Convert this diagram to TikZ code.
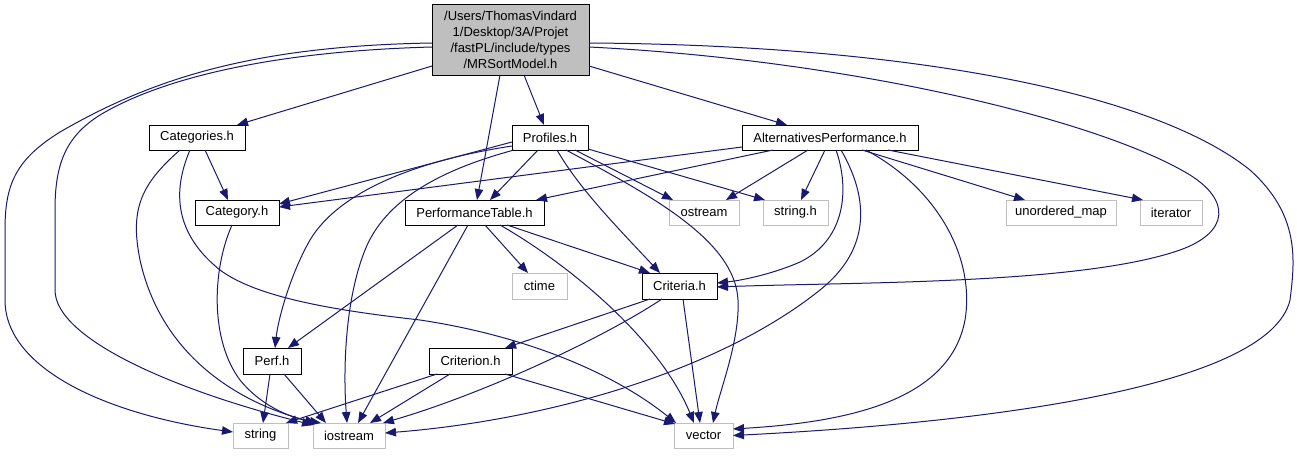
\documentclass[tikz,border=0pt]{standalone}
\usepackage{fontspec}
\setmainfont{Liberation Sans}
\usetikzlibrary{arrows.meta}
\definecolor{edgeblue}{HTML}{191970}
\definecolor{lgray}{HTML}{BFBFBF}
\begin{document}
\begin{tikzpicture}[x=1pt,y=-1pt,
  box/.style={draw=black, fill=white, line width=0.9pt, minimum height=25pt, inner sep=0pt, font=\fontsize{13}{15}\selectfont},
  sys/.style={box, draw=lgray},
  dep/.style={draw=edgeblue, line width=1pt, -{Triangle[length=11pt,width=8.5pt]}}]
\fill[white] (0,0) rectangle (1297,455);
\useasboundingbox (0,0) rectangle (1297,455);
% nodes
\node[box, fill=lgray, minimum width=157pt, minimum height=71pt, align=center, font=\fontsize{13}{16}\selectfont] (root) at (510.5,39.5) {/Users/ThomasVindard\\1/Desktop/3A/Projet\\/fastPL/include/types\\/MRSortModel.h};
\node[box, minimum width=96pt] (cats) at (197,137.5) {Categories.h};
\node[box, minimum width=76pt] (prof) at (550,137.5) {Profiles.h};
\node[box, minimum width=176pt] (alt) at (830,137.5) {AlternativesPerformance.h};
\node[box, minimum width=84pt] (cat) at (237,212.5) {Category.h};
\node[box, minimum width=139pt] (pt) at (474.5,212.5) {PerformanceTable.h};
\node[sys, minimum width=70pt] (ostr) at (704,212.5) {ostream};
\node[sys, minimum width=65pt] (strh) at (795.5,212.5) {string.h};
\node[sys, minimum width=110pt] (umap) at (1061,212.5) {unordered\_map};
\node[sys, minimum width=62pt] (iter) at (1171,212.5) {iterator};
\node[sys, minimum width=55pt, minimum height=26pt] (ctime) at (539.5,286) {ctime};
\node[box, minimum width=75pt, minimum height=26pt] (crit) at (679.5,286) {Criteria.h};
\node[box, minimum width=58pt, minimum height=26pt] (perf) at (272,361) {Perf.h};
\node[box, minimum width=83pt, minimum height=26pt] (crion) at (470.5,361) {Criterion.h};
\node[sys, minimum width=55pt] (str) at (260.5,435.5) {string};
\node[sys, minimum width=72pt] (ios) at (349,435.5) {iostream};
\node[sys, minimum width=59pt] (vec) at (703.5,435.5) {vector};
% root edges
\draw[dep] ([shift={(-78.5,26.5)}]root.center) -- ([shift={(40,-12.5)}]cats.center);
\draw[dep] ([shift={(-78.5,3.5)}]root.center) .. controls (250,46) and (150,80) .. (60,132) .. controls (15,160) and (5,185) .. (5,230) -- (5,300) .. controls (5,370) and (110,415) .. ([shift={(-27.5,-3.5)}]str.center);
\draw[dep] ([shift={(-78.5,7.5)}]root.center) .. controls (250,52) and (150,85) .. (100,115) .. controls (65,137) and (55,165) .. (55,210) -- (55,290) .. controls (55,340) and (180,392) .. ([shift={(-36,-10.5)}]ios.center);
\draw[dep] ([shift={(13.5,35.5)}]root.center) -- ([shift={(-6,-12.5)}]prof.center);
\draw[dep] ([shift={(-10.5,35.5)}]root.center) -- ([shift={(2.5,-12.5)}]pt.center);
\draw[dep] ([shift={(78.5,26.5)}]root.center) -- ([shift={(-43,-12.5)}]alt.center);
\draw[dep] ([shift={(78.5,7.5)}]root.center) .. controls (850,60) and (1100,120) .. (1190,175) .. controls (1230,200) and (1230,232) .. (1180,250) .. controls (1080,285) and (850,282) .. ([shift={(37.5,1)}]crit.center);
\draw[dep] ([shift={(78.5,3.5)}]root.center) .. controls (900,45) and (1150,90) .. (1250,170) .. controls (1300,215) and (1295,260) .. (1290,300) .. controls (1270,385) and (1000,422) .. ([shift={(29.5,0)}]vec.center);
% Categories
\draw[dep] ([shift={(8,12.5)}]cats.center) -- ([shift={(-9,-12.5)}]cat.center);
\draw[dep] ([shift={(-17,12.5)}]cats.center) .. controls (140,185) and (130,210) .. (140,260) .. controls (160,350) and (230,400) .. ([shift={(-33,-12.5)}]ios.center);
\draw[dep] ([shift={(-7,12.5)}]cats.center) .. controls (175,185) and (170,230) .. (220,270) .. controls (260,300) and (350,312) .. (420,320) .. controls (520,335) and (610,370) .. ([shift={(-27.5,-12.5)}]vec.center);
% Category
\draw[dep] ([shift={(-5,12.5)}]cat.center) .. controls (212,270) and (210,340) .. (240,380) .. controls (260,405) and (290,418) .. ([shift={(-28,-12.5)}]ios.center);
% Profiles
\draw[dep] ([shift={(-38,4.5)}]prof.center) -- ([shift={(42,-8.5)}]cat.center);
\draw[dep] ([shift={(-38,8.5)}]prof.center) .. controls (420,160) and (340,190) .. (310,240) .. controls (290,275) and (278,320) .. ([shift={(3,-13)}]perf.center);
\draw[dep] ([shift={(-36,12.5)}]prof.center) .. controls (440,170) and (385,200) .. (365,250) .. controls (345,300) and (343,370) .. ([shift={(-2,-12.5)}]ios.center);
\draw[dep] ([shift={(-12,12.5)}]prof.center) -- ([shift={(15.5,-12.5)}]pt.center);
\draw[dep] ([shift={(7,12.5)}]prof.center) .. controls (580,190) and (620,230) .. ([shift={(-19.5,-13)}]crit.center);
\draw[dep] ([shift={(25,12.5)}]prof.center) -- ([shift={(-31,-12.5)}]ostr.center);
\draw[dep] ([shift={(38,11.5)}]prof.center) -- ([shift={(-30.5,-12.5)}]strh.center);
\draw[dep] ([shift={(16,12.5)}]prof.center) .. controls (650,195) and (735,240) .. (738,300) .. controls (740,340) and (720,390) .. ([shift={(9.5,-12.5)}]vec.center);
% AlternativesPerformance
\draw[dep] ([shift={(-88,9.5)}]alt.center) -- ([shift={(42,-5.5)}]cat.center);
\draw[dep] ([shift={(-57,12.5)}]alt.center) -- ([shift={(61.5,-12.5)}]pt.center);
\draw[dep] ([shift={(-22,12.5)}]alt.center) -- ([shift={(22,-12.5)}]ostr.center);
\draw[dep] ([shift={(-5,12.5)}]alt.center) -- ([shift={(5.5,-12.5)}]strh.center);
\draw[dep] ([shift={(32,12.5)}]alt.center) -- ([shift={(-36,-12.5)}]umap.center);
\draw[dep] ([shift={(58,12.5)}]alt.center) -- ([shift={(-28,-12.5)}]iter.center);
\draw[dep] ([shift={(6,12.5)}]alt.center) .. controls (850,190) and (845,240) .. (800,262) .. controls (775,273) and (745,280) .. ([shift={(37.5,-3)}]crit.center);
\draw[dep] ([shift={(11,12.5)}]alt.center) .. controls (870,200) and (870,250) .. (820,290) .. controls (720,370) and (550,420) .. ([shift={(36,-2.5)}]ios.center);
\draw[dep] ([shift={(36,12.5)}]alt.center) .. controls (940,190) and (975,260) .. (965,320) .. controls (950,400) and (850,422) .. ([shift={(29.5,-6.5)}]vec.center);
% PerformanceTable
\draw[dep] ([shift={(-16.5,12.5)}]pt.center) -- ([shift={(16,-13)}]perf.center);
\draw[dep] ([shift={(-6.5,12.5)}]pt.center) -- ([shift={(9,-12.5)}]ios.center);
\draw[dep] ([shift={(10.5,12.5)}]pt.center) -- ([shift={(-11.5,-13)}]ctime.center);
\draw[dep] ([shift={(25.5,12.5)}]pt.center) .. controls (570,265) and (660,340) .. ([shift={(-9.5,-12.5)}]vec.center);
\draw[dep] ([shift={(32.5,12.5)}]pt.center) -- ([shift={(-29.5,-13)}]crit.center);
% Criteria
\draw[dep] ([shift={(-29.5,13)}]crit.center) -- ([shift={(34.5,-13)}]crion.center);
\draw[dep] ([shift={(-17.5,13)}]crit.center) .. controls (600,340) and (480,395) .. ([shift={(34,-12.5)}]ios.center);
\draw[dep] ([shift={(3.5,13)}]crit.center) -- ([shift={(-3.5,-12.5)}]vec.center);
% Criterion
\draw[dep] ([shift={(-33.5,13)}]crion.center) -- ([shift={(25.5,-12.5)}]str.center);
\draw[dep] ([shift={(-20.5,13)}]crion.center) -- ([shift={(21,-12.5)}]ios.center);
\draw[dep] ([shift={(34.5,13)}]crion.center) -- ([shift={(-28.5,-11.5)}]vec.center);
% Perf
\draw[dep] ([shift={(-2,13)}]perf.center) -- ([shift={(2.5,-12.5)}]str.center);
\draw[dep] ([shift={(12,13)}]perf.center) -- ([shift={(-23,-12.5)}]ios.center);
\end{tikzpicture}
\end{document}
